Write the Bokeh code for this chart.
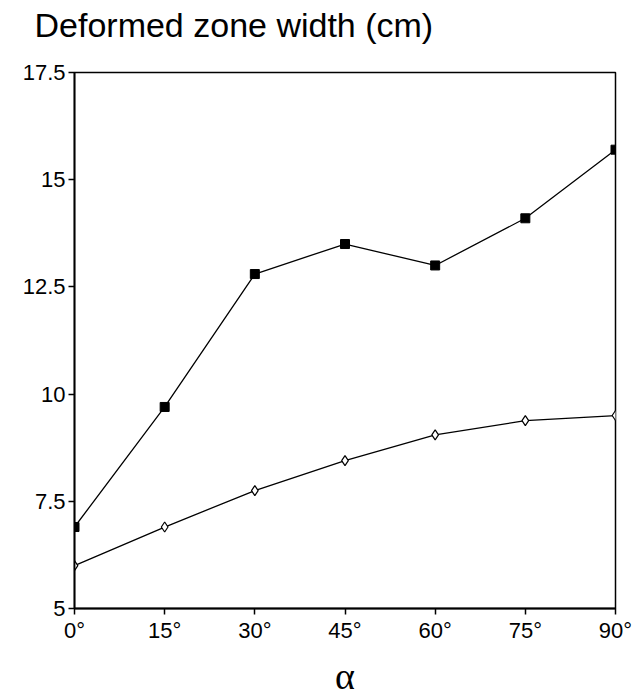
from bokeh.plotting import figure
from bokeh.models import FixedTicker, Range1d, Title
from bokeh.embed import file_html
from bokeh.resources import INLINE

angles = [0, 15, 30, 45, 60, 75, 90]
upper = [6.9, 9.7, 12.8, 13.5, 13.0, 14.1, 15.7]
lower = [6.0, 6.9, 7.75, 8.45, 9.05, 9.38, 9.5]
y_ticks = [5, 7.5, 10, 12.5, 15, 17.5]
y_tick_labels = ["5", "7.5", "10", "12.5", "15", "17.5"]
x_tick_labels = ["0°", "15°", "30°", "45°", "60°", "75°", "90°"]
title_text = "Deformed zone width (cm)"

p = figure(frame_width=541, frame_height=536, output_backend="svg", toolbar_location=None,
           x_range=Range1d(0, 90), y_range=Range1d(5, 17.5),
           min_border_left=74, min_border_right=23, min_border_top=72, min_border_bottom=92)

# empty spacer between the title and the frame
spacer = Title(text=" ", text_font_size="10px", standoff=16)
p.add_layout(spacer, "above")
t = Title(text=title_text, text_font="Liberation Sans", text_font_size="34px",
          text_font_style="normal", text_color="black", align="left", offset=-40,
          standoff=0, vertical_align="bottom")
p.add_layout(t, "above")

p.line(angles, upper, line_color="black", line_width=1.3)
p.scatter(angles, upper, marker="square", size=9, fill_color="black", line_color="black")
p.line(angles, lower, line_color="black", line_width=1.3)
p.scatter(angles, lower, marker="diamond", size=10, fill_color="white", line_color="black", line_width=1.2)

p.xgrid.visible = False
p.ygrid.visible = False
p.outline_line_color = "black"
p.outline_line_width = 1.5
p.outline_line_alpha = 1.0

p.yaxis.ticker = FixedTicker(ticks=y_ticks)
p.yaxis.major_label_overrides = {v: s for v, s in zip(y_ticks, y_tick_labels)}
p.xaxis.ticker = FixedTicker(ticks=angles)
p.xaxis.major_label_overrides = {v: s for v, s in zip(angles, x_tick_labels)}

for ax in (p.xaxis, p.yaxis):
    ax.axis_line_color = "black"
    ax.axis_line_width = 1.8
    ax.major_tick_line_color = "black"
    ax.major_tick_line_width = 1.5
    ax.major_tick_in = 0
    ax.major_tick_out = 6
    ax.minor_tick_line_color = None
    ax.major_label_text_font = "Liberation Sans"
    ax.major_label_text_font_size = "22px"
    ax.major_label_text_color = "black"

p.xaxis.major_label_standoff = 3
p.yaxis.major_label_standoff = 3
p.xaxis.axis_label = "α"
p.xaxis.axis_label_text_font = "Liberation Serif"
p.xaxis.axis_label_text_font_style = "normal"
p.xaxis.axis_label_text_font_size = "38px"
p.xaxis.axis_label_text_line_height = 0.9
p.xaxis.axis_label_standoff = 9
p.xaxis.axis_label_text_color = "black"

open("out.html", "w").write(file_html(p, INLINE))
